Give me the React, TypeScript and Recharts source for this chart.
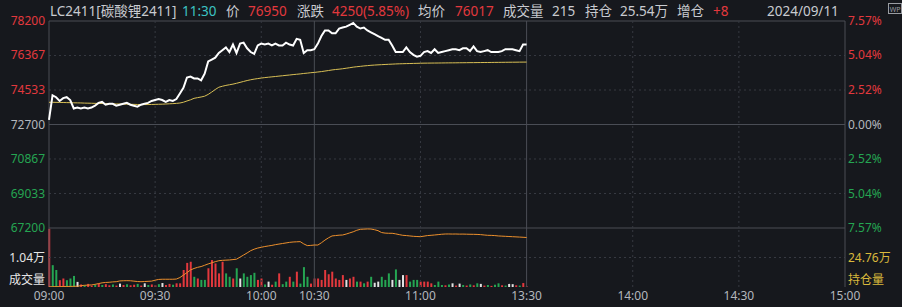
import React from 'react';
import { ComposedChart, Line, Bar, Cell, XAxis, YAxis, ReferenceLine } from 'recharts';

// minute index 0..135 (09:00 -> 11:30), axis runs to 225 (15:00)
const price = [
  72950, 74250, 74150, 73950, 74100, 74150, 74000, 73550, 73600, 73550,
  73600, 73550, 73600, 73700, 73850, 73900, 73750, 73800, 73800, 73700,
  73750, 73800, 73850, 73750, 73700, 73650, 73750, 73800, 73850, 73950,
  74000, 74050, 74000, 73900, 74000, 73950, 74050, 74350, 74650, 75200,
  75250, 75150, 75150, 75050, 75400, 76050, 76150, 76250, 76500, 76650,
  76800, 76550, 76950, 76500, 77000, 77050, 76750, 76550, 76450, 76900,
  77000, 76950, 77000, 76900, 77000, 76900, 76900, 77050, 76950, 76900,
  77250, 77200, 76500, 76650, 76650, 76700, 77000, 77400, 77700, 77700,
  77550, 77550, 77800, 77850, 77900, 78000, 78100, 77900, 77800, 77850,
  77700, 77600, 77500, 77400, 77300, 77200, 77200, 76900, 76550, 76550,
  76550, 76800, 76550, 76400, 76300, 76350, 76550, 76600, 76500, 76700,
  76500, 76550, 76600, 76650, 76700, 76700, 76650, 76750, 76750, 76600,
  76850, 76600, 76550, 76600, 76650, 76550, 76550, 76550, 76600, 76700,
  76700, 76700, 76650, 76600, 76950, 76950,
];

const avgPrice = [
  73880, 73880, 73876, 73872, 73869, 73864, 73860, 73853, 73849, 73845,
  73838, 73834, 73830, 73824, 73821, 73815, 73809, 73806, 73800, 73794,
  73790, 73786, 73779, 73775, 73771, 73764, 73760, 73758, 73761, 73764,
  73770, 73776, 73781, 73789, 73800, 73809, 73822, 73842, 73884, 73950,
  74012, 74090, 74128, 74162, 74205, 74300, 74425, 74560, 74680, 74732,
  74778, 74812, 74845, 74890, 74938, 74988, 75036, 75078, 75112, 75140,
  75168, 75192, 75212, 75232, 75250, 75272, 75290, 75312, 75330, 75352,
  75370, 75388, 75412, 75430, 75452, 75468, 75490, 75512, 75540, 75568,
  75598, 75622, 75640, 75662, 75690, 75718, 75748, 75770, 75790, 75812,
  75828, 75846, 75858, 75870, 75880, 75890, 75900, 75908, 75918, 75925,
  75930, 75936, 75940, 75946, 75950, 75956, 75960, 75962, 75964, 75966,
  75968, 75970, 75973, 75975, 75976, 75978, 75981, 75982, 75984, 75987,
  75988, 75990, 75992, 75995, 75996, 75998, 76001, 76002, 76004, 76006,
  76008, 76010, 76012, 76014, 76016, 76017,
];

const volume = [
  20500, 7700, 6000, 2400, 3000, 2400, 3000, 3900, 1800, 900,
  600, 1100, 500, 800, 1300, 700, 1000, 600, 900, 500,
  1200, 700, 1000, 600, 800, 1100, 500, 1300, 700, 900,
  600, 1000, 1400, 700, 1100, 800, 1300, 1300, 6000, 8500,
  8900, 3600, 3000, 2500, 2500, 6600, 9500, 8300, 4800, 8900,
  4800, 3600, 3000, 6600, 3000, 4800, 3600, 4200, 5000, 2500,
  3000, 900, 1900, 800, 1900, 4800, 1000, 1900, 3600, 1900,
  5400, 1200, 7000, 3600, 1200, 3000, 3000, 2500, 6000, 4500,
  5400, 3000, 2500, 4200, 2500, 3000, 3600, 1900, 1900, 1300,
  1900, 3600, 1500, 1900, 3600, 2500, 4800, 2500, 6200, 2500,
  4200, 4200, 1900, 2500, 2500, 1900, 1900, 1900, 1300, 700,
  1900, 700, 600, 900, 1300, 500, 1200, 700, 500, 900,
  600, 1300, 1100, 500, 700, 400, 800, 1300, 600, 500,
  1100, 1000, 600, 500, 1400, 215,
];

// r = up, g = down, w = flat
const volDir = (
  'rggrrgggwr' + 'grrgrgrrgr' + 'wrgrrgrwgr' + 'rgwrrgrrrr' +
  'rgrggrrrrr' + 'ggrgwggggr' + 'rgwrgrggrg' + 'rgggrrrrrr' +
  'rrrrwrrgrg' + 'rgwwgggwgw' + 'wrgggrrrrg' + 'ggrgwrwgrg' +
  'rgwrgrggrg' + 'wwrgrr'
).split('');

const openInt = [
  239850, 239880, 239900, 239900, 239920, 239950, 239950, 239980, 240000, 240150,
  240250, 240300, 240350, 240500, 240700, 240900, 241000, 241050, 241150, 241200,
  241400, 241450, 241470, 241450, 241350, 241250, 241200, 241250, 241300, 241350,
  241600, 241800, 241850, 241850, 241850, 241850, 241900, 242300, 242950, 243600,
  244300, 244700, 245000, 245200, 245550, 245900, 246200, 246500, 246750, 246850,
  246900, 246950, 247050, 247150, 247700, 248250, 248800, 249400, 249800, 250100,
  250300, 250500, 250650, 250800, 251000, 251150, 251300, 251450, 251600, 251700,
  251750, 251800, 251200, 250750, 250800, 250900, 250900, 251500, 252200, 252800,
  253300, 253400, 253500, 253550, 253800, 254100, 254400, 254800, 255050, 255100,
  255150, 255130, 254950, 254700, 254200, 254050, 254000, 254000, 253850, 253650,
  253470, 253400, 253300, 253200, 253150, 253100, 253250, 253400, 253470, 253550,
  253650, 253750, 253810, 253820, 253800, 253810, 253780, 253790, 253760, 253740,
  253730, 253700, 253650, 253550, 253470, 253450, 253400, 253300, 253250, 253200,
  253150, 253100, 253050, 253000, 252950, 252890,
];

const priceTicks = [78200, 76367, 74533, 72700, 70867, 69033, 67200];
const pctLabels = ['7.57%', '5.04%', '2.52%', '0.00%', '2.52%', '5.04%', '7.57%'];
const timeTicks = [0, 30, 60, 75, 105, 135, 165, 195, 225];
const timeLabels = ['09:00', '09:30', '10:00', '10:30', '11:00', '13:30', '14:00', '14:30', '15:00'];

const BG = '#16181d';
const RED = '#e3383d';
const GREEN = '#25a552';
const GRAY = '#b4b7bd';
const HEAD = '#c9cbd0';
const YELLOW = '#d9b93c';
const GRID = '#363941';
const GRID_SOLID = '#4a4d55';
const FONT = '"Noto Sans", "Noto Sans CJK SC", sans-serif';

const dirColor: Record<string, string> = { r: RED, g: GREEN, w: '#e2e2e2' };

const rows = price.map((p, i) => ({
  t: i,
  price: p,
  avg: avgPrice[i],
  vol: volume[i],
  oi: openInt[i],
  dir: volDir[i],
}));

const tickColor = (v: number) => (v > 72700 ? RED : v < 72700 ? GREEN : GRAY);

const PriceTick = (props: any) => {
  const { x, y, payload } = props;
  const v = payload.value;
  return (
    <text x={x} y={y} dy={4} textAnchor="end" fill={tickColor(v)} fontSize={12} fontFamily={FONT}>
      {v}
    </text>
  );
};

const PctTick = (props: any) => {
  const { x, y, payload } = props;
  const v = payload.value;
  const idx = priceTicks.indexOf(v);
  return (
    <text x={x} y={y} dy={4} textAnchor="start" fill={tickColor(v)} fontSize={12} fontFamily={FONT}>
      {pctLabels[idx]}
    </text>
  );
};

const TimeTick = (props: any) => {
  const { x, y, payload } = props;
  const idx = timeTicks.indexOf(payload.value);
  return (
    <text x={x} y={y} dy={13} textAnchor="middle" fill={GRAY} fontSize={12} fontFamily={FONT}>
      {timeLabels[idx]}
    </text>
  );
};

const header: { text: string; left: number; color: string }[] = [
  { text: 'LC2411[碳酸锂2411]', left: 50, color: HEAD },
  { text: '11:30', left: 182, color: '#3cc3c3' },
  { text: '价', left: 226, color: HEAD },
  { text: '76950', left: 248, color: RED },
  { text: '涨跌', left: 297, color: HEAD },
  { text: '4250(5.85%)', left: 332, color: RED },
  { text: '均价', left: 418, color: HEAD },
  { text: '76017', left: 455, color: RED },
  { text: '成交量', left: 503, color: HEAD },
  { text: '215', left: 552, color: HEAD },
  { text: '持仓', left: 585, color: HEAD },
  { text: '25.54万', left: 620, color: HEAD },
  { text: '增仓', left: 677, color: HEAD },
  { text: '+8', left: 713, color: RED },
  { text: '2024/09/11', left: 767, color: HEAD },
];

const dottedX = [30, 60, 105, 165, 195];
const solidX = [0, 75, 135, 225];

const App: React.FC = () => {
  return (
    <div
      style={{
        position: 'fixed',
        left: 0,
        top: 0,
        width: 902,
        height: 307,
        background: BG,
        fontFamily: FONT,
        overflow: 'hidden',
      }}
    >
      {header.map((h) => (
        <span
          key={h.text + h.left}
          style={{
            position: 'absolute',
            left: h.left,
            top: 2,
            lineHeight: '18px',
            fontSize: 13.5,
            color: h.color,
            whiteSpace: 'nowrap',
          }}
        >
          {h.text}
        </span>
      ))}
      <div
        style={{
          position: 'absolute',
          left: 888,
          top: 3,
          width: 14,
          height: 11,
          border: '1px solid #9a9da3',
          color: '#9a9da3',
          fontSize: 7,
          lineHeight: '11px',
          textAlign: 'center',
          boxSizing: 'border-box',
        }}
      >
        WP
      </div>

      <div style={{ position: 'absolute', left: 0, top: 0 }}>
        <ComposedChart width={902} height={240} data={rows} margin={{ top: 21, right: 0, bottom: 12, left: 0 }}>
          <XAxis dataKey="t" type="number" domain={[0, 225]} hide />
          <YAxis
            yAxisId="l"
            orientation="left"
            width={49}
            type="number"
            domain={[67200, 78200]}
            ticks={priceTicks}
            interval={0}
            allowDataOverflow
            axisLine={false}
            tickLine={false}
            tickSize={0}
            tickMargin={4}
            tick={PriceTick}
          />
          <YAxis
            yAxisId="r"
            orientation="right"
            width={57}
            type="number"
            domain={[67200, 78200]}
            ticks={priceTicks}
            interval={0}
            allowDataOverflow
            axisLine={false}
            tickLine={false}
            tickSize={0}
            tickMargin={3}
            tick={PctTick}
          />
          {[76367, 74533, 70867, 69033].map((v) => (
            <ReferenceLine key={v} yAxisId="l" y={v} stroke={GRID} strokeDasharray="2 3" />
          ))}
          {[78200, 72700, 67200].map((v) => (
            <ReferenceLine key={v} yAxisId="l" y={v} stroke={GRID_SOLID} />
          ))}
          {dottedX.map((v) => (
            <ReferenceLine key={v} yAxisId="l" x={v} stroke={GRID} strokeDasharray="2 3" />
          ))}
          {solidX.map((v) => (
            <ReferenceLine key={v} yAxisId="l" x={v} stroke={GRID_SOLID} />
          ))}
          <Line
            yAxisId="l"
            dataKey="avg"
            stroke="#d8bf55"
            strokeWidth={1}
            dot={false}
            isAnimationActive={false}
          />
          <Line
            yAxisId="l"
            dataKey="price"
            stroke="#ffffff"
            strokeWidth={2}
            dot={false}
            isAnimationActive={false}
          />
        </ComposedChart>
      </div>

      <div style={{ position: 'absolute', left: 0, top: 220 }}>
        <ComposedChart width={902} height={87} data={rows} margin={{ top: 8, right: 0, bottom: 0, left: 0 }}>
          <XAxis
            dataKey="t"
            type="number"
            domain={[0, 225]}
            ticks={timeTicks}
            interval={0}
            height={20}
            axisLine={false}
            tickLine={false}
            tickSize={0}
            tickMargin={0}
            tick={TimeTick}
          />
          <YAxis
            yAxisId="v"
            orientation="left"
            width={49}
            type="number"
            domain={[0, 20800]}
            ticks={[10400]}
            allowDataOverflow
            axisLine={false}
            tickLine={false}
            tickSize={0}
            tickMargin={4}
            tick={{ fill: '#e6e6e6', fontSize: 12, fontFamily: FONT }}
            tickFormatter={() => '1.04万'}
          />
          <YAxis
            yAxisId="oi"
            orientation="right"
            width={57}
            type="number"
            domain={[239800, 255400]}
            ticks={[247600]}
            allowDataOverflow
            axisLine={false}
            tickLine={false}
            tickSize={0}
            tickMargin={3}
            tick={{ fill: YELLOW, fontSize: 12, fontFamily: FONT, textAnchor: 'start' }}
            tickFormatter={() => '24.76万'}
          />
          <ReferenceLine yAxisId="v" y={10400} stroke={GRID} strokeDasharray="2 3" />
          {dottedX.map((v) => (
            <ReferenceLine key={v} yAxisId="v" x={v} stroke={GRID} strokeDasharray="2 3" />
          ))}
          {solidX.map((v) => (
            <ReferenceLine key={v} yAxisId="v" x={v} stroke={GRID_SOLID} />
          ))}
          <Bar yAxisId="v" dataKey="vol" barSize={2} isAnimationActive={false}>
            {rows.map((r) => (
              <Cell key={r.t} fill={dirColor[r.dir]} />
            ))}
          </Bar>
          <Line
            yAxisId="oi"
            dataKey="oi"
            stroke="#ec8f2c"
            strokeWidth={1}
            dot={false}
            isAnimationActive={false}
          />
        </ComposedChart>
      </div>

      <span style={{ position: 'absolute', right: 857, top: 273, fontSize: 12, lineHeight: '14px', color: '#e6e6e6', whiteSpace: 'nowrap' }}>
        成交量
      </span>
      <span style={{ position: 'absolute', left: 848, top: 273, fontSize: 12, lineHeight: '14px', color: YELLOW, whiteSpace: 'nowrap' }}>
        持仓量
      </span>
    </div>
  );
};

export default App;
